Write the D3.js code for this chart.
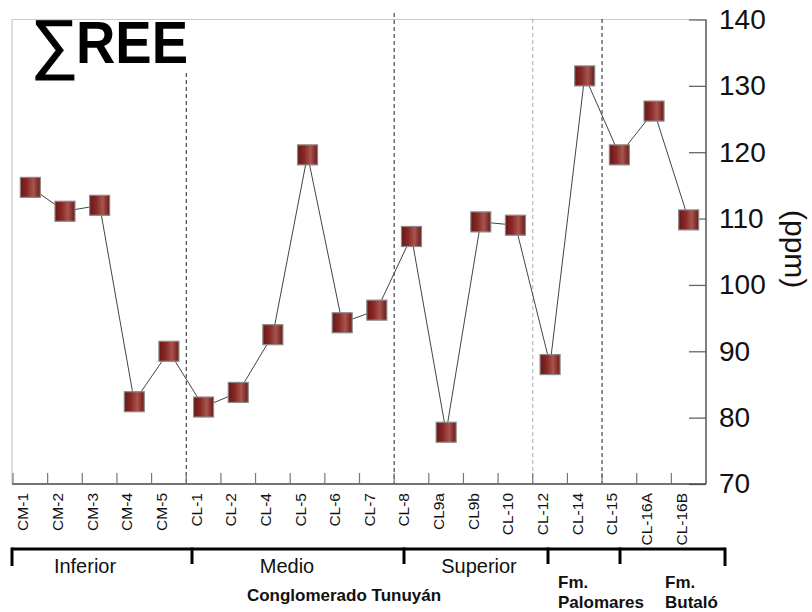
<!DOCTYPE html>
<html>
<head>
<meta charset="utf-8">
<script src="https://cdn.jsdelivr.net/npm/d3@7"></script>
<style>
  html, body { margin: 0; padding: 0; background: #fff; }
  svg { display: block; font-family: "Liberation Sans", Arial, sans-serif; }
</style>
</head>
<body>
<svg id="chart" width="812" height="612"></svg>
<script>
// Sample identifiers along the stratigraphic section
const samples = ["CM-1", "CM-2", "CM-3", "CM-4", "CM-5", "CL-1", "CL-2", "CL-4", "CL-5", "CL-6",
                 "CL-7", "CL-8", "CL9a", "CL9b", "CL-10", "CL-12", "CL-14", "CL-15", "CL-16A", "CL-16B"];

// Total rare earth elements (ppm)
const reeValues = [114.7, 111.1, 112.0, 82.4, 90.0, 81.6, 83.8, 92.5, 119.6, 94.3,
                   96.2, 107.3, 77.8, 109.5, 109.0, 88.0, 131.5, 119.6, 126.2, 109.8];

// Value axis ticks
const yTicks = [70, 80, 90, 100, 110, 120, 130, 140];

// Unit boundaries: index of the first sample after each dashed separator
const separators = [
  { after: 5,  dark: true,  top: 73 },
  { after: 11, dark: true,  top: 13 },
  { after: 15, dark: false, top: 19 },
  { after: 17, dark: true,  top: 19 }
];

// Stratigraphic units under the axis
const unitNames = ["Inferior", "Medio", "Superior"];
const formationNames = [["Fm.", "Palomares"], ["Fm.", "Butaló"]];
const groupName = "Conglomerado Tunuyán";

const svg = d3.select("#chart");

const plot = { left: 13, right: 706, top: 19.5, bottom: 484 };

const x = d3.scaleBand().domain(samples).range([plot.left, plot.right]).padding(0);
const y = d3.scaleLinear().domain([70, 140]).range([plot.bottom, plot.top]);
const bw = x.bandwidth();

// Marker gradient
const defs = svg.append("defs");
const grad = defs.append("linearGradient").attr("id", "mk").attr("x1", 0).attr("x2", 1).attr("y1", 0).attr("y2", 0);
grad.append("stop").attr("offset", "0%").attr("stop-color", "#6a1616");
grad.append("stop").attr("offset", "35%").attr("stop-color", "#8a2a28");
grad.append("stop").attr("offset", "65%").attr("stop-color", "#a8554e");
grad.append("stop").attr("offset", "100%").attr("stop-color", "#6c1818");

// Light frame on top and left
svg.append("line").attr("x1", plot.left - 1).attr("x2", plot.right).attr("y1", plot.top).attr("y2", plot.top)
  .attr("stroke", "#c8c8c8").attr("stroke-width", 1.2);
svg.append("line").attr("x1", plot.left - 1).attr("x2", plot.left - 1).attr("y1", plot.top).attr("y2", plot.bottom)
  .attr("stroke", "#c8c8c8").attr("stroke-width", 1.2);

// Dashed separators
separators.forEach(s => {
  const sx = plot.left + s.after * bw;
  svg.append("line")
    .attr("x1", sx).attr("x2", sx).attr("y1", s.top).attr("y2", plot.bottom)
    .attr("stroke", s.dark ? "#222" : "#aaa")
    .attr("stroke-width", 1)
    .attr("stroke-dasharray", "4,3");
});

// Right value axis with inward ticks
const yAxis = d3.axisRight(y).tickValues(yTicks).tickSize(0).tickPadding(13).tickFormat(d3.format("d"));
const yg = svg.append("g").attr("transform", `translate(${plot.right},0)`).call(yAxis);
yg.select(".domain").remove();
yg.selectAll(".tick text").attr("font-size", 28).attr("fill", "#111").attr("font-family", "Liberation Sans, Arial, sans-serif");
yg.selectAll(".tick").append("line").attr("x1", -17).attr("x2", 0).attr("stroke", "#666").attr("stroke-width", 1.3);
svg.append("line").attr("x1", plot.right).attr("x2", plot.right).attr("y1", plot.top).attr("y2", plot.bottom)
  .attr("stroke", "#555").attr("stroke-width", 1.5);

// Bottom category axis: ticks on band edges, labels rotated
svg.append("line").attr("x1", plot.left - 1).attr("x2", plot.right).attr("y1", plot.bottom).attr("y2", plot.bottom)
  .attr("stroke", "#444").attr("stroke-width", 1.5);
svg.append("g").selectAll("line").data(samples).join("line")
  .attr("x1", d => x(d)).attr("x2", d => x(d))
  .attr("y1", plot.bottom).attr("y2", plot.bottom - 11)
  .attr("stroke", "#777").attr("stroke-width", 1.2);
svg.append("g").selectAll("text").data(samples).join("text")
  .attr("transform", d => `translate(${x(d) + bw / 2 - 2},${plot.bottom + 9}) rotate(-90)`)
  .attr("text-anchor", "end")
  .attr("font-size", 15.5)
  .attr("fill", "#111")
  .text(d => d);

// Connecting line
const line = d3.line().x((d, i) => x(samples[i]) + bw / 2).y(d => y(d));
svg.append("path").datum(reeValues).attr("d", line)
  .attr("fill", "none").attr("stroke", "#444").attr("stroke-width", 1);

// Square markers
const ms = 20;
svg.append("g").selectAll("rect").data(reeValues).join("rect")
  .attr("x", (d, i) => x(samples[i]) + bw / 2 - ms / 2)
  .attr("y", d => y(d) - ms / 2)
  .attr("width", ms).attr("height", ms)
  .attr("fill", "url(#mk)")
  .attr("stroke", "#8a8a8a").attr("stroke-width", 1.2);

// Title: summation sign followed by bold REE
svg.append("text").attr("x", 31).attr("y", 66).attr("fill", "#000")
  .attr("font-size", 66).attr("stroke", "#000").attr("stroke-width", 1.2)
  .text("∑");
svg.append("text").attr("x", 76).attr("y", 63).attr("fill", "#000")
  .attr("font-size", 60).attr("font-weight", "bold")
  .attr("textLength", 112).attr("lengthAdjust", "spacingAndGlyphs")
  .text("REE");

// Unit label
svg.append("text")
  .attr("transform", "translate(785,210) rotate(90)")
  .attr("font-size", 30).attr("fill", "#111")
  .text("(ppm)");

// Stratigraphic brackets
const bracketX = [12, 192, 404, 548, 620, 725];
const by = 549;
svg.append("line").attr("x1", bracketX[0]).attr("x2", bracketX[bracketX.length - 1]).attr("y1", by).attr("y2", by)
  .attr("stroke", "#000").attr("stroke-width", 3);
svg.append("g").selectAll("line").data(bracketX).join("line")
  .attr("x1", d => d).attr("x2", d => d)
  .attr("y1", by - 1.5).attr("y2", (d, i) => (i === 0 || i === bracketX.length - 1) ? by + 17 : by + 15)
  .attr("stroke", "#000").attr("stroke-width", 3);

const unitCenters = [85, 287, 479];
svg.append("g").selectAll("text").data(unitNames).join("text")
  .attr("x", (d, i) => unitCenters[i]).attr("y", 573)
  .attr("text-anchor", "middle").attr("font-size", 20).attr("fill", "#111")
  .text(d => d);

svg.append("text").attr("x", 344).attr("y", 601).attr("text-anchor", "middle")
  .attr("font-size", 17).attr("font-weight", "bold").attr("fill", "#111").text(groupName);

const formationLeft = [558, 665];
formationNames.forEach((lines, i) => {
  const t = svg.append("text").attr("font-size", 17).attr("font-weight", "bold").attr("fill", "#111");
  lines.forEach((s, j) => {
    t.append("tspan").attr("x", formationLeft[i]).attr("y", j === 0 ? 587.5 : 608).text(s);
  });
});
</script>
</body>
</html>
